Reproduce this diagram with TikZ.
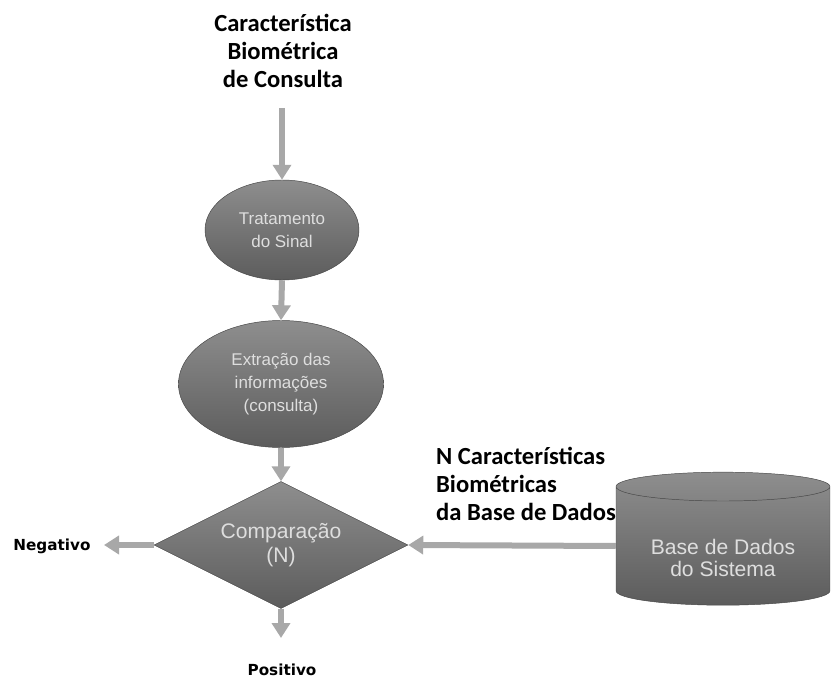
\documentclass[tikz,border=0pt]{standalone}
\usepackage{fontspec}
\setmainfont{Liberation Sans}
\newfontfamily\capfont{Carlito}
\newfontfamily\resfont{DejaVu Sans}
\usetikzlibrary{shapes.geometric,arrows.meta}
\definecolor{shapetop}{RGB}{142,142,142}
\definecolor{shapebot}{RGB}{92,92,92}
\definecolor{shapeline}{RGB}{70,70,70}
\definecolor{flowgray}{RGB}{168,168,168}
\definecolor{txtlight}{RGB}{222,222,222}
\begin{document}
\begin{tikzpicture}[x=0.03cm,y=-0.03cm,
    proc/.style={top color=shapetop,bottom color=shapebot,draw=shapeline,
      text=txtlight,align=center,inner sep=0pt,
      font=\fontsize{14.5}{19.5}\selectfont},
    bigproc/.style={proc,font=\fontsize{18}{21}\selectfont},
    flow/.style={draw=flowgray,line width=0.18cm,
      -{Triangle[width=0.54cm,length=0.45cm]}},
    caption/.style={align=center,font=\capfont\bfseries\fontsize{21}{24}\selectfont},
    result/.style={font=\resfont\bfseries\fontsize{13}{15}\selectfont}]
  \useasboundingbox (0,0) rectangle (831,681);
  % entrada
  \node[caption] (query) at (283,51) {Característica\\Biométrica\\de Consulta};
  \coordinate (qstart) at (282,108);
  % etapas
  \node[proc,ellipse,minimum width=4.62cm,minimum height=3cm] (sig) at (282,230) {Tratamento\\do Sinal};
  \node[proc,ellipse,minimum width=6.15cm,minimum height=3.81cm] (ext) at (281,384) {Extração das\\informações\\(consulta)};
  \node[bigproc,diamond,aspect=2,minimum width=7.62cm,minimum height=3.81cm] (cmp) at (281,545) {Comparação\\(N)};
  \node[bigproc,cylinder,shape border rotate=90,aspect=0.2,
    minimum width=6.42cm,minimum height=3.99cm,font=\fontsize{18}{19}\selectfont] (db) at (723,546)
    {\raisebox{-0.6cm}[0pt][0pt]{\begin{tabular}{@{}c@{}}Base de Dados\\do Sistema\end{tabular}}};
  \node[caption,align=left] (dbcap) at (526,484) {N Características\\Biométricas\\da Base de Dados};
  % resultados
  \node[result] (neg) at (52,546) {Negativo};
  \node[result] (pos) at (282,670) {Positivo};
  \coordinate (negtip) at (104,545);
  \coordinate (postip) at (281,638);
  % setas
  \draw[flow] (qstart) -- (sig.north);
  \draw[flow] (sig.south) -- (ext.north);
  \draw[flow] (ext.south) -- (cmp.north);
  \draw[flow] (cmp.west) -- (negtip);
  \draw[flow] (cmp.south) -- (postip);
  \draw[flow] (db.west) -- (cmp.east);
\end{tikzpicture}
\end{document}
